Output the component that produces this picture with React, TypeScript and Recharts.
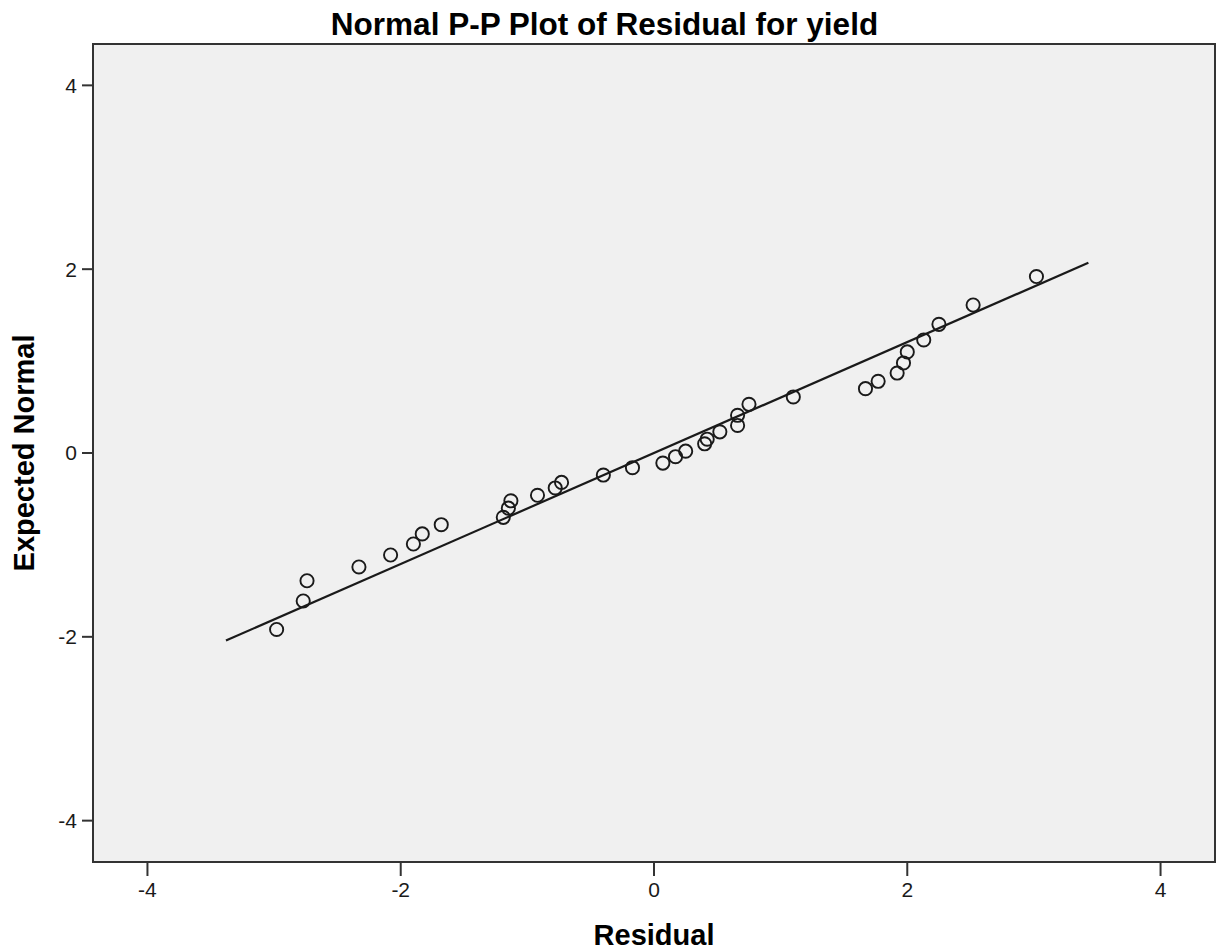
import React from 'react';
import {
  ScatterChart,
  Scatter,
  XAxis,
  YAxis,
  ReferenceArea,
  ReferenceLine,
  Label,
} from 'recharts';

// residuals (x) and expected normal values (y)
const residuals = [
  -2.98, -2.77, -2.74, -2.33, -2.08, -1.9, -1.83, -1.68, -1.19, -1.15, -1.13, -0.92,
  -0.78, -0.73, -0.4, -0.17, 0.07, 0.17, 0.25, 0.4, 0.42, 0.52, 0.66, 0.66, 0.75,
  1.1, 1.67, 1.77, 1.92, 1.97, 2.0, 2.13, 2.25, 2.52, 3.02,
];
const expected = [
  -1.92, -1.61, -1.39, -1.24, -1.11, -0.99, -0.88, -0.78, -0.7, -0.6, -0.52, -0.46,
  -0.38, -0.32, -0.24, -0.16, -0.11, -0.04, 0.02, 0.1, 0.15, 0.23, 0.3, 0.41, 0.53,
  0.61, 0.7, 0.78, 0.87, 0.98, 1.1, 1.23, 1.4, 1.61, 1.92,
];
// endpoints of the reference line
const fitX = [-3.38, 3.43];
const fitY = [-2.04, 2.07];

const xTicks = [-4, -2, 0, 2, 4];
const yTicks = [-4, -2, 0, 2, 4];
const xDomain = [-4.43, 4.43];
const yDomain = [-4.45, 4.45];

const points = residuals.map((x, i) => ({ x, y: expected[i] }));

const FONT = 'Arial, "Liberation Sans", sans-serif';
const INK = '#1a1a1a';

const OpenCircle = (props: any) => (
  <circle cx={props.cx} cy={props.cy} r={6.6} fill="none" stroke={INK} strokeWidth={1.9} />
);

export default function App() {
  return (
    <div
      style={{
        position: 'fixed',
        left: 0,
        top: 0,
        width: 1217,
        height: 951,
        background: '#fff',
        fontFamily: FONT,
      }}
    >
      <div
        style={{
          position: 'absolute',
          top: 9,
          left: 0,
          width: 1209,
          textAlign: 'center',
          fontSize: 31.5,
          lineHeight: '31px',
          fontWeight: 'bold',
          color: '#000',
        }}
      >
        Normal P-P Plot of Residual for yield
      </div>
      <ScatterChart
        width={1217}
        height={951}
        margin={{ top: 44, right: 2, left: 0, bottom: 0 }}
        style={{ fontFamily: FONT }}
      >
        <ReferenceArea
          x1={xDomain[0]}
          x2={xDomain[1]}
          y1={yDomain[0]}
          y2={yDomain[1]}
          fill="#f0f0f0"
          fillOpacity={1}
          stroke="#333"
          strokeWidth={2}
          ifOverflow="visible"
        />
        <XAxis
          type="number"
          dataKey="x"
          domain={xDomain}
          ticks={xTicks}
          allowDataOverflow
          height={89}
          axisLine={false}
          tickSize={14}
          tickMargin={6}
          fontSize={21}
          tickLine={{ stroke: '#333', strokeWidth: 2 }}
          tick={{ fill: INK, fontSize: 21, fontFamily: FONT }}
        >
          <Label
            value="Residual"
            position="insideBottom"
            offset={6}
            style={{ fontSize: 29, fontWeight: 'bold', fill: '#000', fontFamily: FONT }}
          />
        </XAxis>
        <YAxis
          type="number"
          dataKey="y"
          domain={yDomain}
          ticks={yTicks}
          allowDataOverflow
          width={93}
          axisLine={false}
          tickSize={11}
          tickMargin={5}
          fontSize={21}
          tickLine={{ stroke: '#333', strokeWidth: 2 }}
          tick={{ fill: INK, fontSize: 21, fontFamily: FONT }}
        >
          <Label
            content={({ viewBox }: any) => {
              const cx = viewBox.x + 34;
              const cy = viewBox.y + viewBox.height / 2;
              return (
                <text
                  x={cx}
                  y={cy}
                  transform={`rotate(-90 ${cx} ${cy})`}
                  textAnchor="middle"
                  fontSize={29}
                  fontWeight="bold"
                  fill="#000"
                  fontFamily={FONT}
                >
                  Expected Normal
                </text>
              );
            }}
          />
        </YAxis>
        <ReferenceLine
          segment={[
            { x: fitX[0], y: fitY[0] },
            { x: fitX[1], y: fitY[1] },
          ]}
          stroke={INK}
          strokeWidth={2.2}
        />
        <Scatter data={points} shape={OpenCircle} isAnimationActive={false} />
      </ScatterChart>
    </div>
  );
}
